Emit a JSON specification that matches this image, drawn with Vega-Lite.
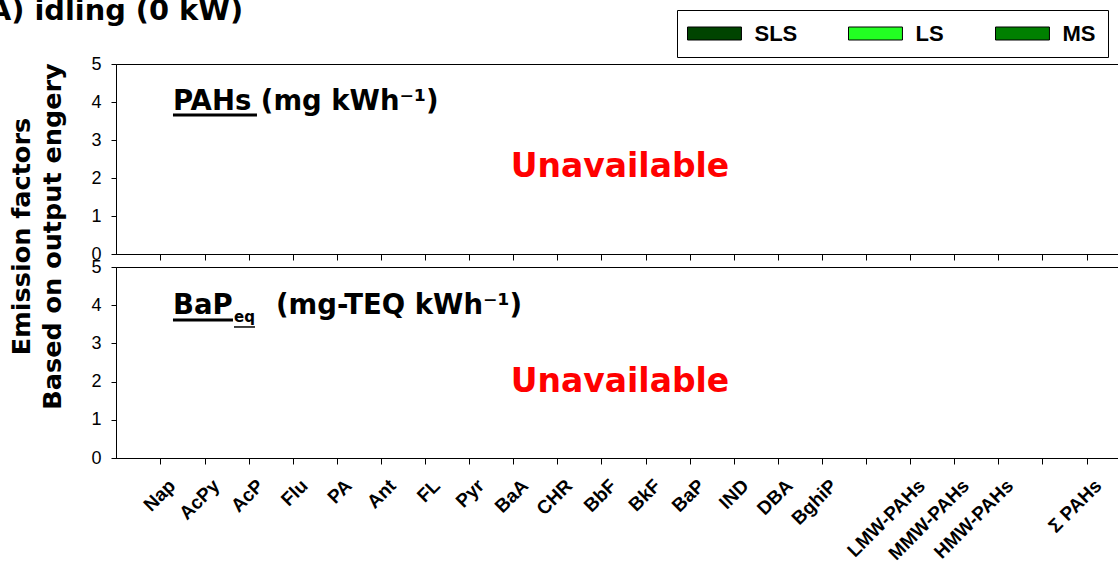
{
  "$schema": "https://vega.github.io/schema/vega-lite/v6.json",
  "autosize": {"type": "none"},
  "padding": {"left": 116, "top": 64, "right": 1002, "bottom": 497},
  "background": "white",
  "title": {
    "text": "A) idling (0 kW)",
    "anchor": "start",
    "frame": "group",
    "font": "DejaVu Sans",
    "fontSize": 28.8,
    "fontWeight": "bold",
    "color": "black",
    "dx": -127,
    "dy": 16,
    "offset": 0
  },
  "datasets": {
    "pahs": [
      {"compound": "Nap", "SLS": null, "LS": null, "MS": null},
      {"compound": "AcPy", "SLS": null, "LS": null, "MS": null},
      {"compound": "AcP", "SLS": null, "LS": null, "MS": null},
      {"compound": "Flu", "SLS": null, "LS": null, "MS": null},
      {"compound": "PA", "SLS": null, "LS": null, "MS": null},
      {"compound": "Ant", "SLS": null, "LS": null, "MS": null},
      {"compound": "FL", "SLS": null, "LS": null, "MS": null},
      {"compound": "Pyr", "SLS": null, "LS": null, "MS": null},
      {"compound": "BaA", "SLS": null, "LS": null, "MS": null},
      {"compound": "CHR", "SLS": null, "LS": null, "MS": null},
      {"compound": "BbF", "SLS": null, "LS": null, "MS": null},
      {"compound": "BkF", "SLS": null, "LS": null, "MS": null},
      {"compound": "BaP", "SLS": null, "LS": null, "MS": null},
      {"compound": "IND", "SLS": null, "LS": null, "MS": null},
      {"compound": "DBA", "SLS": null, "LS": null, "MS": null},
      {"compound": "BghiP", "SLS": null, "LS": null, "MS": null},
      {"compound": "LMW-PAHs", "SLS": null, "LS": null, "MS": null},
      {"compound": "MMW-PAHs", "SLS": null, "LS": null, "MS": null},
      {"compound": "HMW-PAHs", "SLS": null, "LS": null, "MS": null},
      {"compound": "Σ PAHs", "SLS": null, "LS": null, "MS": null}
    ],
    "bapeq": [
      {"compound": "Nap", "SLS": null, "LS": null, "MS": null},
      {"compound": "AcPy", "SLS": null, "LS": null, "MS": null},
      {"compound": "AcP", "SLS": null, "LS": null, "MS": null},
      {"compound": "Flu", "SLS": null, "LS": null, "MS": null},
      {"compound": "PA", "SLS": null, "LS": null, "MS": null},
      {"compound": "Ant", "SLS": null, "LS": null, "MS": null},
      {"compound": "FL", "SLS": null, "LS": null, "MS": null},
      {"compound": "Pyr", "SLS": null, "LS": null, "MS": null},
      {"compound": "BaA", "SLS": null, "LS": null, "MS": null},
      {"compound": "CHR", "SLS": null, "LS": null, "MS": null},
      {"compound": "BbF", "SLS": null, "LS": null, "MS": null},
      {"compound": "BkF", "SLS": null, "LS": null, "MS": null},
      {"compound": "BaP", "SLS": null, "LS": null, "MS": null},
      {"compound": "IND", "SLS": null, "LS": null, "MS": null},
      {"compound": "DBA", "SLS": null, "LS": null, "MS": null},
      {"compound": "BghiP", "SLS": null, "LS": null, "MS": null},
      {"compound": "LMW-PAHs", "SLS": null, "LS": null, "MS": null},
      {"compound": "MMW-PAHs", "SLS": null, "LS": null, "MS": null},
      {"compound": "HMW-PAHs", "SLS": null, "LS": null, "MS": null},
      {"compound": "Σ PAHs", "SLS": null, "LS": null, "MS": null}
    ]
  },
  "vconcat": [
    {
      "width": 1016,
      "height": 190,
      "data": {"name": "pahs"},
      "transform": [{"fold": ["SLS", "LS", "MS"], "as": ["source", "ef"]}],
      "layer": [
        {
          "mark": {"type": "bar", "stroke": "black", "strokeWidth": 0.8},
          "encoding": {
            "x": {
              "field": "compound",
              "type": "nominal",
              "sort": null,
              "scale": {
                "domain": ["Nap", "AcPy", "AcP", "Flu", "PA", "Ant", "FL", "Pyr", "BaA", "CHR", "BbF", "BkF", "BaP", "IND", "DBA", "BghiP", " ", "LMW-PAHs", "MMW-PAHs", "HMW-PAHs", "  ", "Σ PAHs"],
                "paddingInner": 0,
                "paddingOuter": 0.52
              },
              "axis": {"labels": false, "title": null, "ticks": true, "tickSize": 6, "domain": true}
            },
            "y": {
              "field": "ef",
              "type": "quantitative",
              "scale": {"domain": [0, 5], "nice": false, "zero": true},
              "axis": {"values": [0, 1, 2, 3, 4, 5], "tickCount": 6, "labelOverlap": false, "labelFontSize": 18, "title": ["Emission factors", "Based on output engery"], "titleFont": "DejaVu Sans", "titleFontSize": 25.5, "titleFontWeight": "bold", "titleLineHeight": 31, "titleAngle": 270, "titleAlign": "center", "titleBaseline": "bottom", "titleX": -82, "titleY": 172}
            },
            "color": {
              "field": "source",
              "type": "nominal",
              "scale": {"domain": ["SLS", "LS", "MS"], "range": ["#004400", "#22ff22", "#008000"]},
              "legend": {
                "title": null,
                "orient": "none",
                "legendX": 561,
                "legendY": -54,
                "direction": "horizontal",
                "gridAlign": "none",
                "columnPadding": 49,
                "padding": 12.5,
                "strokeColor": "black",
                "fillColor": "white",
                "symbolType": "M-2,-1H6.3V1H-2Z",
                "symbolSize": 169,
                "symbolStrokeColor": "black",
                "symbolStrokeWidth": 1,
                "symbolOpacity": 1,
                "labelOffset": 43,
                "labelExpr": "datum.label == 'MS' ? 'MS                ' : datum.label",
                "labelFont": "Liberation Sans",
                "labelFontSize": 22,
                "labelFontWeight": "bold",
                "labelColor": "black"
              }
            }
          }
        },
        {
          "data": {"values": [{"label": "PAHs (mg kWh⁻¹)"}]},
          "mark": {"type": "text", "align": "left", "baseline": "alphabetic", "font": "DejaVu Sans", "fontSize": 27.5, "fontWeight": "bold", "color": "black", "dx": 12},
          "encoding": {
            "x": {"datum": "Nap"},
            "y": {"datum": 3.79, "axis": {"values": [0, 1, 2, 3, 4, 5], "tickCount": 6, "labelOverlap": false, "labelFontSize": 18, "title": ["Emission factors", "Based on output engery"], "titleFont": "DejaVu Sans", "titleFontSize": 25.5, "titleFontWeight": "bold", "titleLineHeight": 31, "titleAngle": 270, "titleAlign": "center", "titleBaseline": "bottom", "titleX": -82, "titleY": 172}},
            "text": {"field": "label"}
          }
        },
        {
          "data": {"values": [{"label": "underline"}]},
          "mark": {"type": "tick", "color": "black", "thickness": 3, "size": 84, "xOffset": 54, "opacity": 1},
          "encoding": {
            "x": {"datum": "Nap"},
            "y": {"datum": 3.66, "axis": {"values": [0, 1, 2, 3, 4, 5], "tickCount": 6, "labelOverlap": false, "labelFontSize": 18, "title": ["Emission factors", "Based on output engery"], "titleFont": "DejaVu Sans", "titleFontSize": 25.5, "titleFontWeight": "bold", "titleLineHeight": 31, "titleAngle": 270, "titleAlign": "center", "titleBaseline": "bottom", "titleX": -82, "titleY": 172}}
          }
        },
        {
          "data": {"values": [{"label": "Unavailable"}]},
          "mark": {"type": "text", "align": "center", "baseline": "alphabetic", "font": "DejaVu Sans", "fontSize": 33, "fontWeight": "bold", "color": "#ff0000", "dx": 18},
          "encoding": {
            "x": {"datum": "BbF"},
            "y": {"datum": 2.03, "axis": {"values": [0, 1, 2, 3, 4, 5], "tickCount": 6, "labelOverlap": false, "labelFontSize": 18, "title": ["Emission factors", "Based on output engery"], "titleFont": "DejaVu Sans", "titleFontSize": 25.5, "titleFontWeight": "bold", "titleLineHeight": 31, "titleAngle": 270, "titleAlign": "center", "titleBaseline": "bottom", "titleX": -82, "titleY": 172}},
            "text": {"field": "label"}
          }
        }
      ]
    },
    {
      "width": 1016,
      "height": 191,
      "data": {"name": "bapeq"},
      "transform": [{"fold": ["SLS", "LS", "MS"], "as": ["source", "ef"]}],
      "layer": [
        {
          "mark": {"type": "bar", "stroke": "black", "strokeWidth": 0.8},
          "encoding": {
            "x": {
              "field": "compound",
              "type": "nominal",
              "sort": null,
              "scale": {
                "domain": ["Nap", "AcPy", "AcP", "Flu", "PA", "Ant", "FL", "Pyr", "BaA", "CHR", "BbF", "BkF", "BaP", "IND", "DBA", "BghiP", " ", "LMW-PAHs", "MMW-PAHs", "HMW-PAHs", "  ", "Σ PAHs"],
                "paddingInner": 0,
                "paddingOuter": 0.52
              },
              "axis": {
                "title": null,
                "tickSize": 6,
                "labelAngle": 315,
                "labelAlign": "right",
                "labelBaseline": "top",
                "labelPadding": 12,
                "labelOffset": 5,
                "labelFont": "Liberation Sans",
                "labelFontSize": 19,
                "labelFontWeight": "bold",
                "labelOverlap": false,
                "labelBound": false,
                "labelLimit": 300
              }
            },
            "y": {
              "field": "ef",
              "type": "quantitative",
              "scale": {"domain": [0, 5], "nice": false, "zero": true},
              "axis": {"values": [0, 1, 2, 3, 4, 5], "tickCount": 6, "labelOverlap": false, "labelFontSize": 18, "title": null}
            }
          }
        },
        {
          "data": {"values": [{"label": "BaP"}]},
          "mark": {"type": "text", "align": "left", "baseline": "alphabetic", "font": "DejaVu Sans", "fontSize": 27.5, "fontWeight": "bold", "color": "black", "dx": 12},
          "encoding": {
            "x": {"datum": "Nap"},
            "y": {"datum": 3.77, "axis": {"values": [0, 1, 2, 3, 4, 5], "tickCount": 6, "labelOverlap": false, "labelFontSize": 18, "title": null}},
            "text": {"field": "label"}
          }
        },
        {
          "data": {"values": [{"label": "underline"}]},
          "mark": {"type": "tick", "color": "black", "thickness": 3, "size": 60, "xOffset": 42, "opacity": 1},
          "encoding": {
            "x": {"datum": "Nap"},
            "y": {"datum": 3.61, "axis": {"values": [0, 1, 2, 3, 4, 5], "tickCount": 6, "labelOverlap": false, "labelFontSize": 18, "title": null}}
          }
        },
        {
          "data": {"values": [{"label": "eq"}]},
          "mark": {"type": "text", "align": "left", "baseline": "alphabetic", "font": "DejaVu Sans", "fontSize": 15, "fontWeight": "bold", "color": "black", "dx": 73},
          "encoding": {
            "x": {"datum": "Nap"},
            "y": {"datum": 3.56, "axis": {"values": [0, 1, 2, 3, 4, 5], "tickCount": 6, "labelOverlap": false, "labelFontSize": 18, "title": null}},
            "text": {"field": "label"}
          }
        },
        {
          "data": {"values": [{"label": "underline"}]},
          "mark": {"type": "tick", "color": "black", "thickness": 1.5, "size": 21, "xOffset": 83.5, "opacity": 1},
          "encoding": {
            "x": {"datum": "Nap"},
            "y": {"datum": 3.43, "axis": {"values": [0, 1, 2, 3, 4, 5], "tickCount": 6, "labelOverlap": false, "labelFontSize": 18, "title": null}}
          }
        },
        {
          "data": {"values": [{"label": "(mg-TEQ kWh⁻¹)"}]},
          "mark": {"type": "text", "align": "left", "baseline": "alphabetic", "font": "DejaVu Sans", "fontSize": 27.5, "fontWeight": "bold", "color": "black", "dx": 115},
          "encoding": {
            "x": {"datum": "Nap"},
            "y": {"datum": 3.77, "axis": {"values": [0, 1, 2, 3, 4, 5], "tickCount": 6, "labelOverlap": false, "labelFontSize": 18, "title": null}},
            "text": {"field": "label"}
          }
        },
        {
          "data": {"values": [{"label": "Unavailable"}]},
          "mark": {"type": "text", "align": "center", "baseline": "alphabetic", "font": "DejaVu Sans", "fontSize": 33, "fontWeight": "bold", "color": "#ff0000", "dx": 18},
          "encoding": {
            "x": {"datum": "BbF"},
            "y": {"datum": 1.73, "axis": {"values": [0, 1, 2, 3, 4, 5], "tickCount": 6, "labelOverlap": false, "labelFontSize": 18, "title": null}},
            "text": {"field": "label"}
          }
        }
      ]
    }
  ],
  "spacing": 13,
  "bounds": "flush",
  "config": {
    "font": "Liberation Sans",
    "view": {"stroke": "black", "strokeWidth": 1},
    "axis": {
      "grid": false,
      "domainColor": "black",
      "domainWidth": 1,
      "tickColor": "black",
      "tickWidth": 1,
      "labelColor": "black",
      "titleColor": "black",
      "labelFont": "Liberation Sans",
      "labelFontSize": 18,
      "labelFlush": false
    },
    "axisY": {"tickSize": 5, "labelPadding": 10}
  }
}
